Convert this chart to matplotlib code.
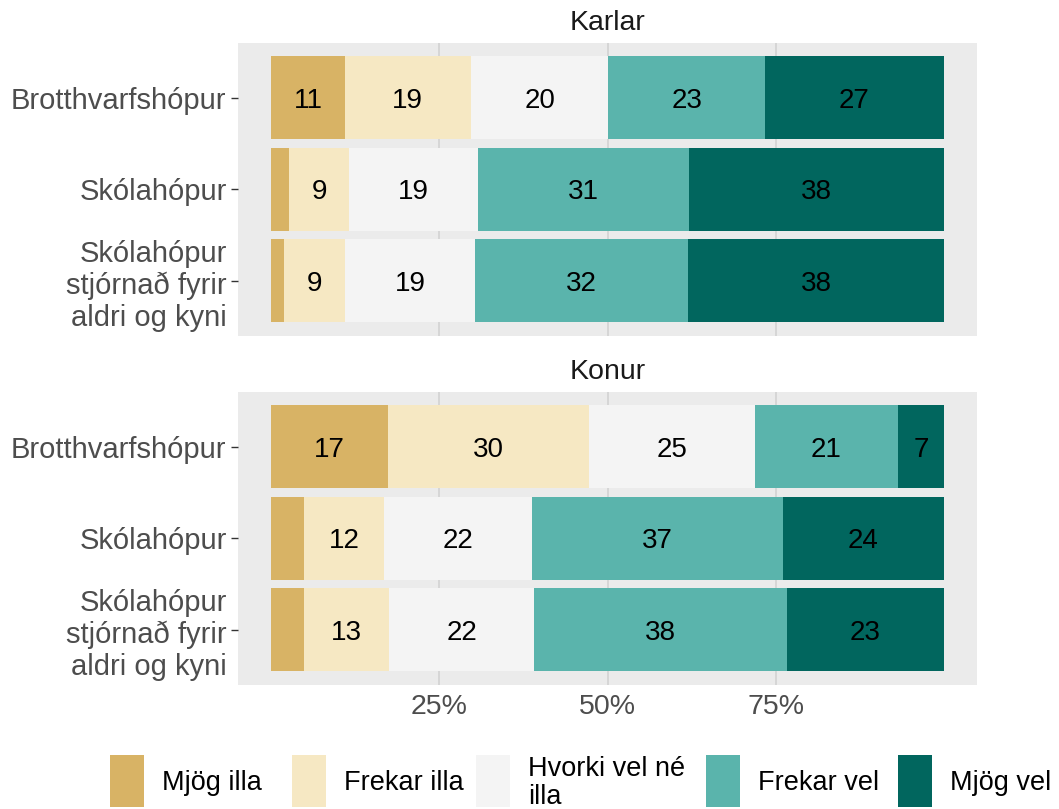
import matplotlib
matplotlib.use("Agg")
import matplotlib.pyplot as plt
from matplotlib.patches import Rectangle
from matplotlib.transforms import offset_copy

plt.rcParams['font.family'] = ['Liberation Sans', 'DejaVu Sans']

groups = ["Karlar", "Konur"]
categories = ["Brotthvarfshópur", "Skólahópur", "Skólahópur\nstjórnað fyrir\naldri og kyni"]
responses = ["Mjög illa", "Frekar illa", "Hvorki vel né\nilla", "Frekar vel", "Mjög vel"]
colors = ["#D8B365", "#F6E8C3", "#F4F4F4", "#5AB4AC", "#01665E"]

# values in percent, per group -> per category -> per response
karlar = [
    [10.9, 18.8, 20.4, 23.3, 26.6],
    [2.7, 8.8, 19.2, 31.4, 37.9],
    [1.9, 9.1, 19.3, 31.7, 38.0],
]
konur = [
    [17.3, 30.0, 24.6, 21.3, 6.8],
    [4.8, 12.0, 21.9, 37.4, 23.9],
    [4.9, 12.6, 21.6, 37.6, 23.3],
]
data = [karlar, konur]
xticks = [25, 50, 75]
xticklabels = ["25%", "50%", "75%"]

W, H = 1059, 809
fig = plt.figure(figsize=(W / 100, H / 100), dpi=100)

panel_left, panel_right = 237.7, 977.4
panel_tops = [42.7, 391.7]
panel_h = 293.0

lab_fs = 20
cap_px = 0.716 * lab_fs * 100 / 72

for gi, (g, vals) in enumerate(zip(groups, data)):
    top = panel_tops[gi]
    ax = fig.add_axes([panel_left / W, (H - top - panel_h) / H,
                       (panel_right - panel_left) / W, panel_h / H])
    ax.set_facecolor("#EBEBEB")
    for s in ax.spines.values():
        s.set_visible(False)
    ax.set_xlim(-5, 105)
    ax.set_ylim(0.4, 3.6)
    for xt in xticks:
        ax.axvline(xt, color="#D0D0D0", lw=1.1, zorder=0)
    txt_tr = offset_copy(ax.transData, fig=fig, x=0, y=-cap_px / 2 * 72 / 100,
                         units="points")
    ypos = [3, 2, 1]
    for ci, row in enumerate(vals):
        left = 0.0
        for ri, v in enumerate(row):
            ax.barh(ypos[ci], v, left=left, height=0.905, color=colors[ri],
                    edgecolor="none", zorder=2)
            if v >= 6:
                ax.text(left + v / 2, ypos[ci], f"{round(v):d}", ha="center",
                        va="baseline", fontsize=lab_fs, color="black", zorder=3,
                        transform=txt_tr)
            left += v
    ax.set_yticks(ypos)
    ax.set_yticklabels(categories, fontsize=21, color="#4D4D4D",
                       linespacing=1.17)
    ax.tick_params(axis="y", length=5, width=1, color="#333333", pad=3)
    if gi == 1:
        ax.set_xticks(xticks)
        ax.set_xticklabels(xticklabels, fontsize=20.5, color="#4D4D4D")
        ax.tick_params(axis="x", length=0, pad=7)
    else:
        ax.set_xticks([])
    fig.text((panel_left + panel_right) / 2 / W, 1 - (top - 20) / H, g,
             ha="center", va="center", fontsize=20.5, color="#1A1A1A")

# legend
key_x = [110, 292, 476, 706, 898]
key_w, key_top, key_bot = 34, 755, 807
for k, (lab, col) in enumerate(zip(responses, colors)):
    fig.patches.append(Rectangle((key_x[k] / W, 1 - key_bot / H), key_w / W,
                                 (key_bot - key_top) / H, transform=fig.transFigure,
                                 facecolor=col, edgecolor="none"))
    fig.text((key_x[k] + key_w + 18) / W, 1 - 783 / H, lab,
             ha="left", va="center", fontsize=19.5, color="black",
             linespacing=1.15)

fig.savefig("out.png", dpi=100)
